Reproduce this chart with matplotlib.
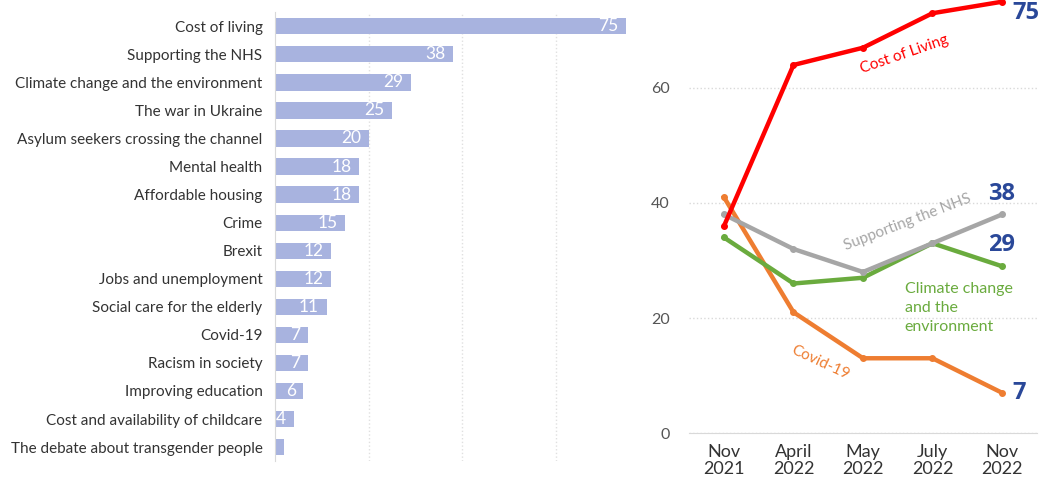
import matplotlib.pyplot as plt

plt.rcParams['font.family'] = ['Lato', 'DejaVu Sans']

# bar chart: share naming each issue
issues = ['Cost of living', 'Supporting the NHS', 'Climate change and the environment',
          'The war in Ukraine', 'Asylum seekers crossing the channel', 'Mental health',
          'Affordable housing', 'Crime', 'Brexit', 'Jobs and unemployment',
          'Social care for the elderly', 'Covid-19', 'Racism in society',
          'Improving education', 'Cost and availability of childcare',
          'The debate about transgender people']
shares = [75, 38, 29, 25, 20, 18, 18, 15, 12, 12, 11, 7, 7, 6, 4, 2]

# line chart: trend over time
waves = ['Nov\n2021', 'April\n2022', 'May\n2022', 'July\n2022', 'Nov\n2022']
cost_living = [36, 64, 67, 73, 75]
nhs = [38, 32, 28, 33, 38]
climate = [34, 26, 27, 33, 29]
covid = [41, 21, 13, 13, 7]

fig = plt.figure(figsize=(10.47, 4.9), dpi=100)

# ---- left: horizontal bars
ax = fig.add_axes([0.2627, 0.059, 0.3353, 0.916])
y = range(len(issues))
ax.barh(y, shares, height=0.58, color='#a8b3df')
for i, v in enumerate(shares):
    if v >= 4:
        ax.text(v - 1.6, i, str(v), color='white', ha='right', va='center', fontsize=12.5)
ax.set_ylim(len(issues) - 0.5, -0.5)
ax.set_xlim(0, 75)
ax.set_yticks(list(y))
ax.set_yticklabels(issues, fontsize=11, color='#333333')
ax.tick_params(axis='y', length=0, pad=9)
ax.set_xticks([20, 40, 60])
ax.set_xticklabels([])
ax.tick_params(axis='x', length=0)
ax.grid(axis='x', color='#e0e0e0', linestyle=':', linewidth=1)
ax.set_axisbelow(True)
for s in ['top', 'right', 'bottom']:
    ax.spines[s].set_visible(False)
ax.spines['left'].set_color('#d9d9d9')

# ---- right: lines
ax2 = fig.add_axes([0.6583, 0.1163, 0.3319, 0.8837])
x = range(len(waves))
series = [(cost_living, '#ff0000'), (nhs, '#a6a6a6'), (climate, '#6aab3e'), (covid, '#ee7d31')]
for vals, col in [series[3], series[2], series[1], series[0]]:
    ax2.plot(x, vals, color=col, linewidth=3.2, marker='o', markersize=4, clip_on=False,
             solid_joinstyle='round')
ax2.set_xlim(-0.5, 4.5)
ax2.set_ylim(0, 75.3)
ax2.set_yticks([0, 20, 40, 60])
ax2.tick_params(axis='y', length=0, labelsize=11.5, labelcolor='#555555', pad=14)
ax2.set_xticks(list(x))
ax2.set_xticklabels(waves, fontsize=13, color='#333333', linespacing=1.1)
ax2.tick_params(axis='x', length=0, pad=8)
ax2.grid(axis='y', color='#d9d9d9', linestyle=':', linewidth=1)
for s in ['top', 'right', 'left']:
    ax2.spines[s].set_visible(False)
ax2.spines['bottom'].set_color('#d9d9d9')

# line labels
ax2.text(2.6, 65.8, 'Cost of Living', color='#ff0000', fontsize=11, rotation=19,
         ha='center', va='center')
ax2.text(2.64, 36.7, 'Supporting the NHS', color='#a6a6a6', fontsize=11, rotation=21,
         ha='center', va='center')
ax2.text(2.6, 21.8, 'Climate change\nand the\nenvironment', color='#6aab3e', fontsize=11.5,
         ha='left', va='center', linespacing=1.45)
ax2.text(1.38, 12.3, 'Covid-19', color='#ee7d31', fontsize=11, rotation=-25,
         ha='center', va='center')

# end values
blue = '#2a4899'
end_font = dict(color=blue, fontsize=17, fontweight='bold', family=['Open Sans', 'DejaVu Sans'])
ax2.text(4.15, cost_living[-1] - 2, str(cost_living[-1]), ha='left', va='center', **end_font)
ax2.text(4.0, nhs[-1] + 3.6, str(nhs[-1]), ha='center', va='center', **end_font)
ax2.text(4.0, climate[-1] + 3.7, str(climate[-1]), ha='center', va='center', **end_font)
ax2.text(4.15, covid[-1], str(covid[-1]), ha='left', va='center', **end_font)

fig.savefig('out.png', dpi=100)
